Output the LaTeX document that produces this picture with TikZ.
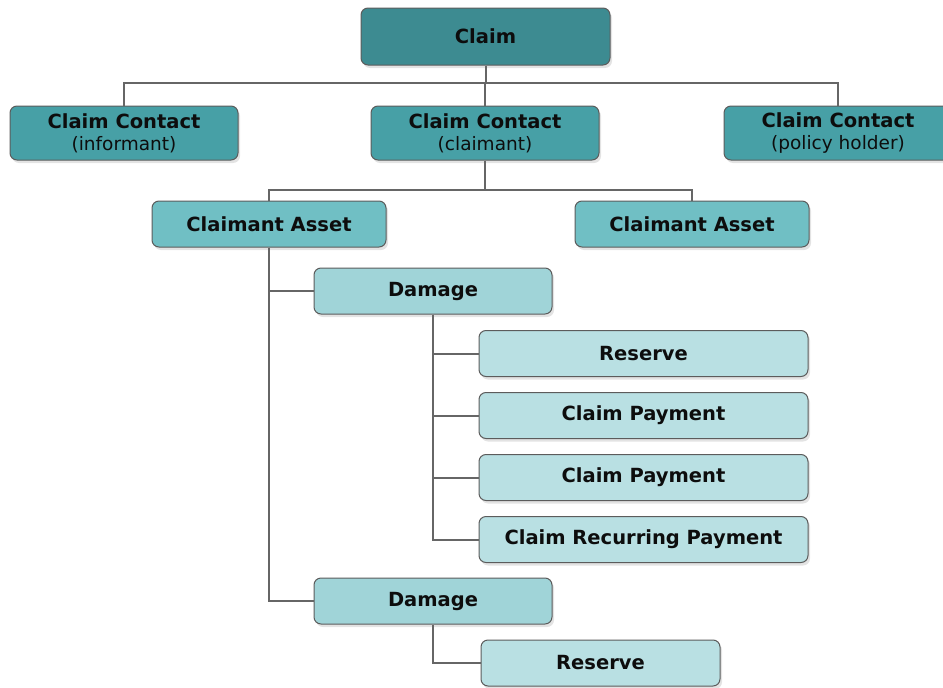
\documentclass[tikz,border=0pt]{standalone}
\usepackage{fontspec}
\setmainfont{DejaVu Sans}
\usetikzlibrary{shadows}

\definecolor{toptone}{HTML}{3D8B91}
\definecolor{contacttone}{HTML}{47A0A6}
\definecolor{assettone}{HTML}{70BFC4}
\definecolor{damagetone}{HTML}{A0D4D8}
\definecolor{leaftone}{HTML}{B9E0E3}
\definecolor{edgegray}{HTML}{5C5C5C}
\definecolor{linkgray}{HTML}{666666}

\def\wide{228}
\def\assetw{234}
\def\dmgw{238}
\def\leafw{329}
\def\rowh{46}

\tikzset{
  box/.style={draw=edgegray, line width=1pt, rounded corners=7pt, inner sep=0pt,
    align=center, text=black!95, font=\bfseries\fontsize{19.5}{21}\selectfont,
    drop shadow={shadow xshift=2pt, shadow yshift=-3pt, opacity=0.22}},
  link/.style={draw=linkgray, line width=2pt}
}

\begin{document}
\begin{tikzpicture}[x=1pt,y=-1pt]

\clip (0,0) rectangle (943,688);

% top level
\node[box, fill=toptone, minimum width=249pt, minimum height=57pt] (claim) at (485.5,36.5) {Claim};

% contacts
\node[box, fill=contacttone, minimum width=\wide pt, minimum height=54pt] (informant) at (124,133)
  {Claim Contact\\[1pt]{\mdseries\fontsize{18.5}{20}\selectfont (informant)}};
\node[box, fill=contacttone, minimum width=\wide pt, minimum height=54pt] (claimant) at (485,133)
  {Claim Contact\\[1pt]{\mdseries\fontsize{18.5}{20}\selectfont (claimant)}};
\node[box, fill=contacttone, minimum width=\wide pt, minimum height=54pt] (holder) at (838,133)
  {Claim Contact\\[1pt]{\mdseries\fontsize{18.5}{20}\selectfont (policy holder)}};

% assets
\node[box, fill=assettone, minimum width=\assetw pt, minimum height=\rowh pt] (assetA) at (269,224) {Claimant Asset};
\node[box, fill=assettone, minimum width=\assetw pt, minimum height=\rowh pt] (assetB) at (692,224) {Claimant Asset};

% damages
\node[box, fill=damagetone, minimum width=\dmgw pt, minimum height=\rowh pt] (damageA) at (433,291) {Damage};
\node[box, fill=damagetone, minimum width=\dmgw pt, minimum height=\rowh pt] (damageB) at (433,601) {Damage};

% leaves under first damage
\foreach \name/\txt [count=\i from 0] in {reserveA/Reserve, payA/Claim Payment, payB/Claim Payment, recurring/Claim Recurring Payment}{
  \node[box, fill=leaftone, minimum width=\leafw pt, minimum height=\rowh pt] (\name) at (643.5,353.5+62*\i) {\txt};
}

% leaf under second damage
\node[box, fill=leaftone, minimum width=239pt, minimum height=\rowh pt] (reserveB) at (600.5,663) {Reserve};

% connectors
\draw[link] (claim.south) -- ++(0,17) -| (informant.north);
\draw[link] (claim.south) -- ++(0,17) -| (claimant.north);
\draw[link] (claim.south) -- ++(0,17) -| (holder.north);

\draw[link] (claimant.south) -- ++(0,29) -| (assetA.north);
\draw[link] (claimant.south) -- ++(0,29) -| (assetB.north);

\draw[link] (assetA.south) |- (damageA.west);
\draw[link] (assetA.south) |- (damageB.west);

\foreach \name in {reserveA, payA, payB, recurring}{
  \draw[link] (damageA.south) |- (\name.west);
}
\draw[link] (damageB.south) |- (reserveB.west);

\end{tikzpicture}
\end{document}
